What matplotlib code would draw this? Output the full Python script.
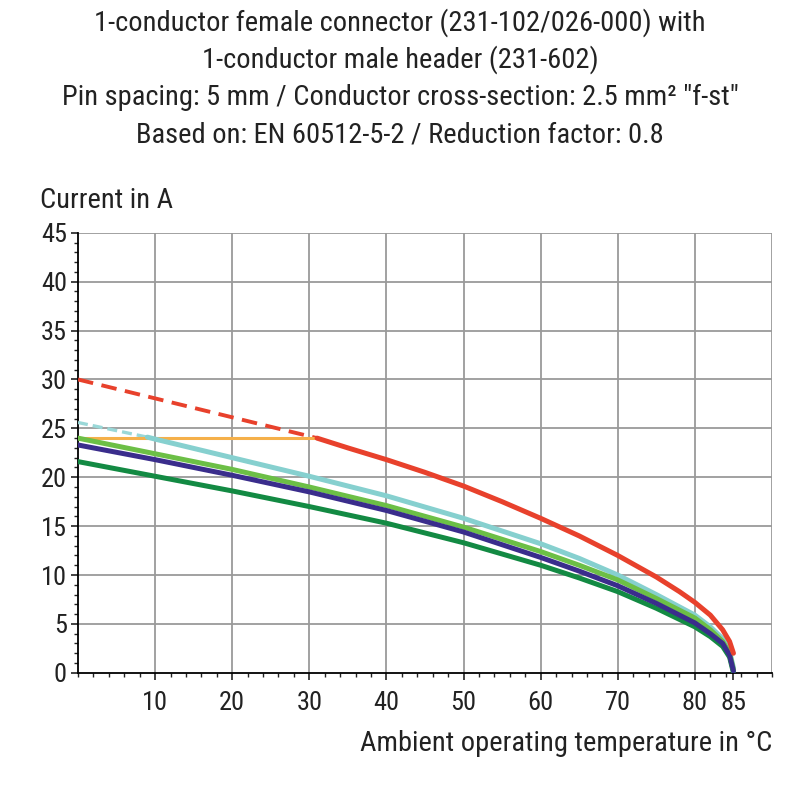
import matplotlib
matplotlib.use("Agg")
import matplotlib.pyplot as plt
from matplotlib.ticker import MultipleLocator, FixedLocator

plt.rcParams['font.family'] = ['Roboto Condensed', 'Roboto', 'DejaVu Sans']

title_lines = [
    "1-conductor female connector (231-102/026-000) with",
    "1-conductor male header (231-602)",
    "Pin spacing: 5 mm / Conductor cross-section: 2.5 mm\u00b2 \"f-st\"",
    "Based on: EN 60512-5-2 / Reduction factor: 0.8",
]
y_label = "Current in A"
x_label = "Ambient operating temperature in \u00b0C"

x_ticks = [10, 20, 30, 40, 50, 60, 70, 80, 85]
y_ticks = [0, 5, 10, 15, 20, 25, 30, 35, 40, 45]

red_dash_T = [0, 31]
red_dash_I = [30.0, 24.0]
red_T = [31, 35, 40, 45, 50, 55, 60, 65, 70, 75, 78, 80, 82, 83.6, 84.5, 85]
red_I = [24.0, 23.0, 21.8, 20.5, 19.1, 17.5, 15.8, 14.0, 12.0, 9.8, 8.3, 7.2, 5.9, 4.4, 3.2, 2.0]

orange_T = [0, 31]
orange_I = [24.0, 24.0]

cyan_dash_T = [0, 9]
cyan_dash_I = [25.6, 24.1]
cyan_T = [9, 10, 20, 30, 40, 50, 60, 65, 70, 75, 80, 82, 83.6, 84.5, 85]
cyan_I = [24.1, 23.9, 22.0, 20.1, 18.1, 15.8, 13.2, 11.7, 10.0, 8.0, 5.9, 4.7, 3.5, 2.2, 0.5]

lgreen_T = [0, 10, 20, 30, 40, 50, 60, 65, 70, 75, 80, 82, 83.6, 84.5, 85]
lgreen_I = [24.0, 22.4, 20.8, 19.0, 17.1, 14.9, 12.4, 11.0, 9.5, 7.6, 5.6, 4.4, 3.2, 2.0, 0.3]

purple_T = [0, 10, 20, 30, 40, 50, 60, 65, 70, 75, 80, 82, 83.6, 84.5, 85]
purple_I = [23.3, 21.8, 20.2, 18.5, 16.6, 14.4, 11.8, 10.4, 8.9, 7.1, 5.1, 4.0, 3.0, 1.8, 0.2]

dgreen_T = [0, 10, 20, 30, 40, 50, 60, 65, 70, 75, 80, 82, 83.6, 84.5, 85]
dgreen_I = [21.6, 20.1, 18.6, 17.0, 15.3, 13.3, 11.0, 9.7, 8.3, 6.6, 4.7, 3.7, 2.7, 1.6, 0.0]

fig = plt.figure(figsize=(8, 8), dpi=100)
ax = fig.add_axes([0.0975, 0.159, 0.8675, 0.55])

lw = 3.6
ax.plot(red_dash_T, red_dash_I, color="#e8412c", lw=2.8, ls=(0, (4, 2.2)), zorder=3)
ax.plot(cyan_dash_T, cyan_dash_I, color="#9ad8d8", lw=2.4, ls=(0, (3, 1.5)), zorder=3)
ax.plot(orange_T, orange_I, color="#f5b04a", lw=2.2, zorder=4)
ax.plot(dgreen_T, dgreen_I, color="#138a43", lw=lw, zorder=5, solid_capstyle="round", solid_joinstyle="round")
ax.plot(cyan_T, cyan_I, color="#86d0cf", lw=lw, zorder=5.2, solid_capstyle="round", solid_joinstyle="round")
ax.plot(lgreen_T, lgreen_I, color="#6cbf46", lw=lw, zorder=5.5, solid_capstyle="round", solid_joinstyle="round")
ax.plot(purple_T, purple_I, color="#3a2d8c", lw=lw, zorder=6, solid_capstyle="round", solid_joinstyle="round")
ax.plot(red_T, red_I, color="#e8412c", lw=lw, zorder=7, solid_capstyle="round", solid_joinstyle="round")

ax.set_xlim(0, 90)
ax.set_ylim(0, 45)
ax.xaxis.set_major_locator(FixedLocator(x_ticks))
ax.yaxis.set_major_locator(FixedLocator(y_ticks))
ax.xaxis.set_minor_locator(MultipleLocator(2))
ax.yaxis.set_minor_locator(MultipleLocator(1))

for g in range(10, 91, 10):
    ax.axvline(g, color="#9a9a9a", lw=1.3, zorder=1)
for g in range(5, 46, 5):
    ax.axhline(g, color="#9a9a9a", lw=1.3, zorder=1)

for s in ["top", "right"]:
    ax.spines[s].set_visible(False)
for s in ["left", "bottom"]:
    ax.spines[s].set_color("black")
    ax.spines[s].set_linewidth(1.3)

ax.tick_params(axis="both", which="major", direction="out", length=5, width=1.2,
               labelsize=19, colors="#222222", pad=3)
ax.tick_params(axis="both", which="minor", direction="out", length=3, width=1.0, colors="#222222")
ax.tick_params(axis="x", pad=8)

for i, line in enumerate(title_lines):
    fig.text(0.5, 0.972 - i * 0.047, line, ha="center", va="center",
             fontsize=20.5, color="#222222")

fig.text(0.05, 0.75, y_label, ha="left", va="center", fontsize=20.5, color="#222222")
fig.text(0.965, 0.071, x_label, ha="right", va="center", fontsize=20.5, color="#222222")

fig.savefig("out.png", dpi=100)
